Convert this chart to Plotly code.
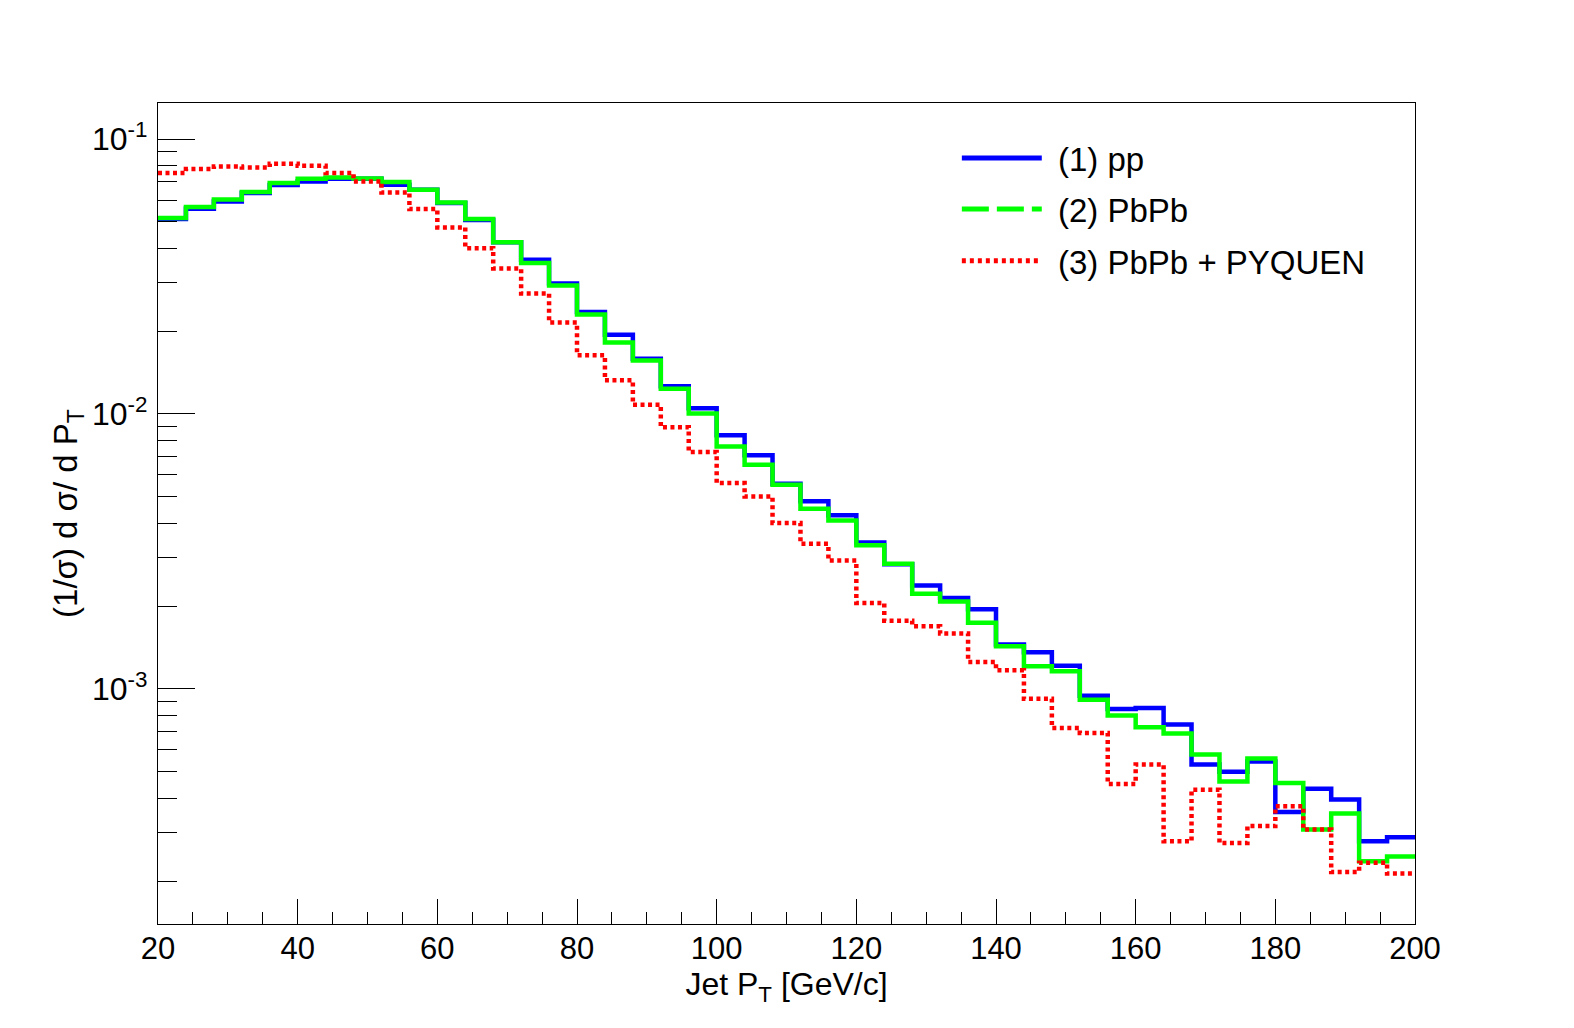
import plotly.graph_objects as go

# ---- data ----
bin_edges = [20, 24, 28, 32, 36, 40, 44, 48, 52, 56, 60, 64, 68, 72, 76, 80, 84, 88, 92, 96,
             100, 104, 108, 112, 116, 120, 124, 128, 132, 136, 140, 144, 148, 152, 156, 160,
             164, 168, 172, 176, 180, 184, 188, 192, 196, 200]

pp = [0.0512, 0.0558, 0.0593, 0.0636, 0.0680, 0.0701, 0.0717, 0.0717, 0.0682, 0.0654,
      0.0585, 0.0508, 0.0421, 0.0364, 0.0298, 0.0235, 0.0194, 0.01589, 0.0126, 0.01048,
      0.00836, 0.00707, 0.00557, 0.00481, 0.00428, 0.00341, 0.00284, 0.00238, 0.00214, 0.00195,
      0.00145, 0.001359, 0.001215, 0.000945, 0.000846, 0.000853, 0.000742, 0.000531, 0.000500, 0.000545,
      0.000357, 0.000433, 0.000396, 0.000279, 0.000289]

pbpb = [0.0516, 0.0566, 0.0602, 0.0642, 0.0692, 0.0717, 0.0725, 0.0719, 0.0698, 0.0654,
        0.0588, 0.0512, 0.0421, 0.0354, 0.0293, 0.0230, 0.0182, 0.01566, 0.01236, 0.01003,
        0.00762, 0.00654, 0.00553, 0.00452, 0.00410, 0.00333, 0.00285, 0.00222, 0.00208, 0.00174,
        0.001429, 0.001208, 0.001159, 0.000914, 0.000800, 0.000725, 0.000688, 0.000577, 0.000461, 0.000558,
        0.000455, 0.000308, 0.000352, 0.000236, 0.000246]

pbpb_pyquen = [0.0752, 0.0778, 0.0795, 0.0788, 0.0813, 0.0800, 0.0752, 0.0701, 0.0639, 0.0556,
               0.0477, 0.0401, 0.0338, 0.0274, 0.0215, 0.01636, 0.01325, 0.0108, 0.00894, 0.00727,
               0.00561, 0.00501, 0.00401, 0.00337, 0.00293, 0.002055, 0.00177, 0.00169, 0.00159, 0.001253,
               0.001168, 0.000920, 0.000721, 0.000692, 0.000451, 0.000531, 0.000279, 0.000430, 0.000275, 0.000317,
               0.000374, 0.000308, 0.000216, 0.000233, 0.000213]

series_names = ["(1) pp", "(2) PbPb", "(3) PbPb + PYQUEN"]

x_tick_vals = [20, 40, 60, 80, 100, 120, 140, 160, 180, 200]
y_tick_vals = [0.001, 0.01, 0.1]
y_tick_text = ["10<sup>-3</sup>", "10<sup>-2</sup>", "10<sup>-1</sup>"]
y_minor_vals = [0.0002, 0.0003, 0.0004, 0.0005, 0.0006, 0.0007, 0.0008, 0.0009,
                0.002, 0.003, 0.004, 0.005, 0.006, 0.007, 0.008, 0.009,
                0.02, 0.03, 0.04, 0.05, 0.06, 0.07, 0.08, 0.09]

FONT = "Liberation Sans, Arial, sans-serif"

series = [
    (pp, "#0000ff", "solid", "solid"),
    (pbpb, "#00ff00", "solid", "27px,8px"),
    (pbpb_pyquen, "#ff0000", "4px,3.5px", "4px,4px"),
]

fig = go.Figure()
for (vals, color, dash, _), name in zip(series, series_names):
    fig.add_trace(go.Scatter(
        x=bin_edges, y=vals + [vals[-1]], mode="lines", name=name,
        line=dict(color=color, width=4.5, dash=dash, shape="hv"),
        showlegend=False, hoverinfo="skip"))

# manual legend (long line samples like the ROOT TLegend)
leg_y = [0.933, 0.871, 0.808]
for (vals, color, _, leg_dash), name, yy in zip(series, series_names, leg_y):
    fig.add_shape(type="line", xref="paper", yref="paper", x0=0.6395, x1=0.7031, y0=yy, y1=yy,
                  line=dict(color=color, width=5, dash=leg_dash))
    fig.add_annotation(xref="paper", yref="paper", x=0.7141, y=yy - 0.002, text=name,
                       showarrow=False, xanchor="left", yanchor="middle",
                       font=dict(family=FONT, size=33, color="black"))

fig.update_layout(
    width=1574, height=1028, autosize=False,
    margin=dict(l=157.5, r=159, t=103.3, b=103.7, pad=0),
    paper_bgcolor="white", plot_bgcolor="white",
    font=dict(family=FONT, color="black"),
)
fig.update_xaxes(
    range=[20, 200], showgrid=False, zeroline=False,
    showline=True, linecolor="black", linewidth=1.3, mirror=True,
    ticks="inside", ticklen=25, tickwidth=1.2, tickcolor="black",
    tickmode="array", tickvals=x_tick_vals,
    tickfont=dict(family=FONT, size=31, color="black"),
    ticklabelstandoff=-3,
    minor=dict(dtick=5, tick0=20, ticks="inside", ticklen=12, tickwidth=1.2, tickcolor="black", showgrid=False),
    title=dict(text="Jet P<sub>T</sub> [GeV/c]", font=dict(family=FONT, size=32, color="black"), standoff=0),
)
fig.update_yaxes(
    type="log", range=[-3.855, -0.869], showgrid=False, zeroline=False,
    showline=True, linecolor="black", linewidth=1.3, mirror=True,
    ticks="inside", ticklen=37, tickwidth=1.2, tickcolor="black",
    tickmode="array", tickvals=y_tick_vals, ticktext=y_tick_text,
    tickfont=dict(family=FONT, size=32, color="black"),
    ticklabelstandoff=3,
    minor=dict(tickmode="array", tickvals=y_minor_vals, ticks="inside", ticklen=19,
               tickwidth=1.2, tickcolor="black", showgrid=False),
    title=dict(text="(1/σ) d σ/ d P<sub>T</sub>", font=dict(family=FONT, size=33, color="black"), standoff=4),
)

fig.write_html("out.html", config={"displayModeBar": False},
               post_script="document.body.style.margin='0px';document.body.style.overflow='hidden';")
